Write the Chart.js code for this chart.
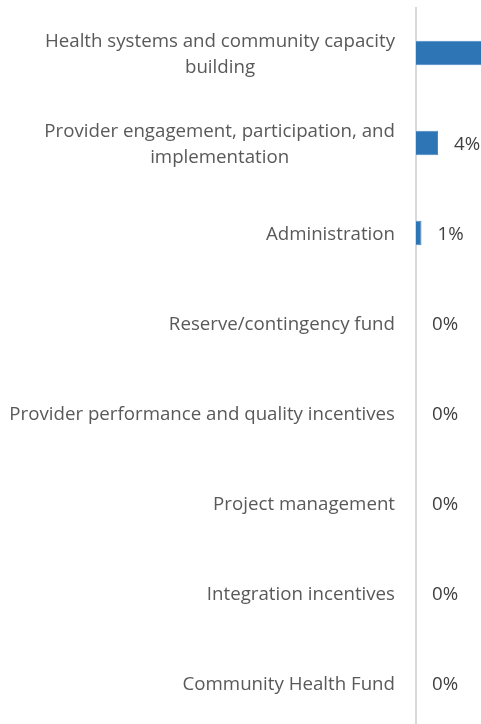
<!DOCTYPE html>
<html>
<head>
<meta charset="utf-8">
<script src="https://cdn.jsdelivr.net/npm/chart.js@4"></script>
<style>
html,body{margin:0;padding:0;background:#fff;overflow:hidden;width:481px;height:724px;}
#wrap{position:absolute;left:0;top:0;width:1000px;height:740px;}
</style>
</head>
<body>
<div id="wrap"><canvas id="c" width="1000" height="740"></canvas></div>
<script>
const categories = [
  ["Health systems and community capacity", "building"],
  ["Provider engagement, participation, and", "implementation"],
  ["Administration"],
  ["Reserve/contingency fund"],
  ["Provider performance and quality incentives"],
  ["Project management"],
  ["Integration incentives"],
  ["Community Health Fund"]
];
const values = [95, 4, 1, 0, 0, 0, 0, 0];
const valueLabels = ["95%", "4%", "1%", "0%", "0%", "0%", "0%", "0%"];

const FONT_FAMILY = "'Open Sans', sans-serif";
const FONT_SIZE = 18.7;
const TEXT_COLOR = '#595959';

const labelPlugin = {
  id: 'labels',
  afterDraw(chart) {
    const ctx = chart.ctx;
    const ys = chart.scales.y;
    ctx.save();
    ctx.font = FONT_SIZE + 'px ' + FONT_FAMILY;
    ctx.fillStyle = TEXT_COLOR;
    ctx.textBaseline = 'middle';
    const right = chart.chartArea.left - 21;
    const lh = 26;
    categories.forEach((lines, i) => {
      const y = ys.getPixelForValue(i) + 2;
      const w = Math.max(...lines.map(l => ctx.measureText(l).width));
      const cx = right - w / 2;
      ctx.textAlign = 'center';
      lines.forEach((l, j) => {
        ctx.fillText(l, cx, y + (j - (lines.length - 1) / 2) * lh);
      });
    });
    const meta = chart.getDatasetMeta(0);
    ctx.textAlign = 'left';
    ctx.fillStyle = '#404040';
    meta.data.forEach((el, i) => {
      ctx.fillText(valueLabels[i], el.x + 16, el.y + 2);
    });
    ctx.restore();
  }
};

new Chart(document.getElementById('c'), {
  type: 'bar',
  data: {
    labels: categories,
    datasets: [{
      data: values,
      backgroundColor: '#2e75b6',
      borderColor: '#4a88c8',
      borderWidth: 1,
      borderSkipped: 'left',
      barPercentage: 0.27,
      categoryPercentage: 1
    }]
  },
  options: {
    indexAxis: 'y',
    responsive: false,
    animation: false,
    layout: { padding: { top: 8, bottom: 12, left: 0, right: 34 } },
    plugins: { legend: { display: false }, tooltip: { enabled: false } },
    scales: {
      x: { display: false, min: 0, max: 100 },
      y: {
        afterFit(s) { s.width = 416; },
        ticks: { display: false },
        grid: { display: false },
        border: { display: true, color: '#d9d9d9', width: 2 }
      }
    }
  },
  plugins: [labelPlugin]
});
</script>
</body>
</html>
